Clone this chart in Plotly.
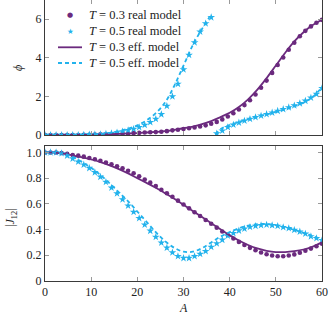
import plotly.graph_objects as go

# ---------------- data ----------------
A_real = [0, 1.2, 2.4, 3.6, 4.8, 6, 7.2, 8.4, 9.6, 10.8, 12, 13.2, 14.4, 15.6, 16.8,
          18, 19.2, 20.4, 21.6, 22.8, 24, 25.2, 26.4, 27.6, 28.8, 30, 31.2, 32.4, 33.6,
          34.8, 36, 37.2, 38.4, 39.6, 40.8, 42, 43.2, 44.4, 45.6, 46.8, 48, 49.2, 50.4,
          51.6, 52.8, 54, 55.2, 56.4, 57.6, 58.8, 60]

phi_T03_real = [0, 0, 0, 0, 0, 0, 0, 0.01, 0.01, 0.02, 0.03, 0.04, 0.05, 0.06, 0.07,
                0.08, 0.1, 0.11, 0.13, 0.14, 0.15, 0.17, 0.2, 0.24, 0.27, 0.31, 0.35, 0.39, 0.44,
                0.5, 0.58, 0.68, 0.81, 0.96, 1.13, 1.32, 1.55, 1.8, 2.1, 2.45, 2.82, 3.22, 3.63,
                4.02, 4.42, 4.78, 5.12, 5.4, 5.63, 5.82, 5.97]

phi_T05_real = [0, 0, 0, 0, 0, 0, 0, 0.01, 0.02, 0.03, 0.04, 0.06, 0.09, 0.13, 0.18,
                0.24, 0.31, 0.4, 0.52, 0.66, 0.83, 1.07, 1.5, 2.0, 2.65, 3.4, 4.15, 4.8, 5.35,
                5.78, 6.1, 0.08, 0.22, 0.4, 0.53, 0.64, 0.74, 0.83, 0.92, 1.0, 1.08, 1.16, 1.25,
                1.34, 1.43, 1.53, 1.64, 1.77, 1.93, 2.12, 2.42]

J_T03_real = [1.0, 1.0, 1.0, 0.995, 0.99, 0.98, 0.975, 0.967, 0.957, 0.947, 0.935, 0.922, 0.908, 0.893, 0.877,
              0.858, 0.838, 0.815, 0.79, 0.765, 0.738, 0.71, 0.682, 0.655, 0.625, 0.595, 0.565, 0.535, 0.505,
              0.475, 0.445, 0.415, 0.385, 0.358, 0.33, 0.304, 0.28, 0.258, 0.24, 0.222, 0.208, 0.198, 0.193,
              0.193, 0.198, 0.207, 0.22, 0.235, 0.252, 0.27, 0.29]

J_T05_real = [1.0, 1.0, 1.0, 0.993, 0.975, 0.952, 0.928, 0.905, 0.878, 0.845, 0.81, 0.77, 0.725, 0.68, 0.634,
              0.585, 0.537, 0.488, 0.438, 0.39, 0.342, 0.298, 0.258, 0.222, 0.193, 0.178, 0.178, 0.192, 0.21,
              0.232, 0.265, 0.292, 0.32, 0.352, 0.372, 0.392, 0.407, 0.42, 0.428, 0.434, 0.437, 0.433, 0.428,
              0.418, 0.41, 0.397, 0.384, 0.368, 0.347, 0.333, 0.317]

A_eff = [0, 2, 4, 6, 8, 10, 12, 14, 16, 18, 20, 22, 24, 26, 28, 30, 32, 34, 36, 38, 40,
         42, 44, 46, 48, 50, 52, 54, 56, 58, 60]

phi_T03_eff = [0, 0, 0, 0, 0, 0.01, 0.03, 0.04, 0.06, 0.08, 0.1, 0.13, 0.16, 0.2, 0.27, 0.35,
               0.44, 0.56, 0.72, 0.93, 1.15, 1.45, 1.85, 2.35, 2.95, 3.6, 4.25, 4.85, 5.33, 5.7, 5.97]

J_T03_eff = [1.0, 0.998, 0.99, 0.978, 0.962, 0.945, 0.925, 0.9, 0.87, 0.837, 0.8, 0.763, 0.725, 0.683,
             0.64, 0.593, 0.545, 0.497, 0.45, 0.402, 0.355, 0.315, 0.28, 0.253, 0.235, 0.225, 0.225,
             0.232, 0.245, 0.268, 0.3]

A_eff05_b1 = [0, 2, 4, 6, 8, 10, 12, 14, 16, 18, 20, 22, 24, 26, 28, 30, 32, 34, 35.6]
phi_T05_eff_b1 = [0, 0, 0, 0, 0, 0.02, 0.05, 0.11, 0.2, 0.33, 0.5, 0.76, 1.13, 1.68, 2.55, 3.6,
                  4.65, 5.5, 6.1]
A_eff05_b2 = [37, 38, 40, 42, 44, 46, 48, 50, 52, 54, 56, 58, 60]
phi_T05_eff_b2 = [0.02, 0.3, 0.52, 0.68, 0.82, 0.95, 1.07, 1.2, 1.33, 1.48, 1.68, 1.98, 2.48]

J_T05_eff = [1.0, 0.998, 0.99, 0.965, 0.925, 0.88, 0.825, 0.76, 0.69, 0.62, 0.54, 0.46, 0.38,
             0.31, 0.258, 0.228, 0.228, 0.255, 0.3, 0.345, 0.38, 0.41, 0.43, 0.442, 0.443, 0.435,
             0.418, 0.398, 0.375, 0.35, 0.322]

x_ticks = [0, 10, 20, 30, 40, 50, 60]
phi_ticks = [0, 2, 4, 6]
J_ticks = [0, 0.2, 0.4, 0.6, 0.8, 1.0]
J_tick_text = ["0", "0.2", "0.4", "0.6", "0.8", "1.0"]

names = ["<i>T</i> = 0.3 real model", "<i>T</i> = 0.5 real model",
         "<i>T</i> = 0.3 eff. model", "<i>T</i> = 0.5 eff. model"]

# ---------------- style ----------------
PURPLE = "#6B2A7E"
CYAN = "#22B2EC"
FONT = "Liberation Serif, Times New Roman, serif"
TXT = "#222"
STAR = 5.8
DOT = 4.6

fig = go.Figure()

# top panel (x, y)
fig.add_trace(go.Scatter(x=A_real, y=phi_T03_real, mode="markers", name=names[0],
                         marker=dict(symbol="circle", size=DOT, color=PURPLE),
                         xaxis="x", yaxis="y"))
fig.add_trace(go.Scatter(x=A_real, y=phi_T05_real, mode="markers", name=names[1],
                         marker=dict(symbol="star", size=STAR, color=CYAN, line=dict(width=0)),
                         xaxis="x", yaxis="y"))
fig.add_trace(go.Scatter(x=A_eff, y=phi_T03_eff, mode="lines", name=names[2],
                         line=dict(color=PURPLE, width=1.8, shape="spline"),
                         xaxis="x", yaxis="y"))
fig.add_trace(go.Scatter(x=A_eff05_b1 + [None] + A_eff05_b2,
                         y=phi_T05_eff_b1 + [None] + phi_T05_eff_b2,
                         mode="lines", name=names[3], connectgaps=False,
                         line=dict(color=CYAN, width=1.8, dash="4px,3px", shape="spline"),
                         xaxis="x", yaxis="y"))

# bottom panel (x2, y2)
fig.add_trace(go.Scatter(x=A_real, y=J_T03_real, mode="markers",
                         marker=dict(symbol="circle", size=DOT, color=PURPLE),
                         xaxis="x2", yaxis="y2"))
fig.add_trace(go.Scatter(x=A_real, y=J_T05_real, mode="markers",
                         marker=dict(symbol="star", size=STAR, color=CYAN, line=dict(width=0)),
                         xaxis="x2", yaxis="y2"))
fig.add_trace(go.Scatter(x=A_eff, y=J_T03_eff, mode="lines",
                         line=dict(color=PURPLE, width=1.8, shape="spline"),
                         xaxis="x2", yaxis="y2"))
fig.add_trace(go.Scatter(x=A_eff, y=J_T05_eff, mode="lines",
                         line=dict(color=CYAN, width=1.8, dash="4px,3px", shape="spline"),
                         xaxis="x2", yaxis="y2"))

axis_common = dict(showline=True, linecolor="#3a3a3a", linewidth=1, mirror="ticks",
                   ticks="inside", ticklen=4, tickcolor="#9a9a9a", tickwidth=1,
                   showgrid=False, zeroline=False,
                   tickfont=dict(family=FONT, size=12, color=TXT))

# ---- layout geometry (pixels) ----
W, HT = 333, 317
ML, MR, MT, MB = 45, 11, 0, 36
PW = W - ML - MR
PH = HT - MT - MB


def px_x(p):
    return (p - ML) / PW


def px_y(p):
    return (HT - MB - p) / PH


annotations = [
    dict(text="<i>ϕ</i>", xref="paper", yref="paper", x=px_x(18), y=px_y(68),
         xanchor="center", yanchor="middle",
         showarrow=False, textangle=-90, font=dict(family=FONT, size=12, color=TXT)),
    dict(text="|<i>J</i><sub>12</sub>|", xref="paper", yref="paper", x=px_x(11), y=px_y(218),
         xanchor="center", yanchor="middle",
         showarrow=False, textangle=-90, font=dict(family=FONT, size=12, color=TXT)),
    dict(text="<i>A</i>", xref="paper", yref="paper", x=px_x(183), y=px_y(308),
         xanchor="center", yanchor="middle",
         showarrow=False, font=dict(family=FONT, size=12, color=TXT)),
]
shapes = []

# ---- legend (built as text + key glyphs) ----
leg_rows = [15, 31.3, 47.3, 63]
leg_keys = [("●", PURPLE, 7), ("★", CYAN, 7.5), ("solid", PURPLE, 0), ("4px,3px", CYAN, 0)]
for row, nm, (key, col, ks) in zip(leg_rows, names, leg_keys):
    annotations.append(dict(text=nm, xref="paper", yref="paper", x=px_x(87), y=px_y(row),
                            xanchor="left", yanchor="middle", showarrow=False,
                            font=dict(family=FONT, size=12.5, color=TXT)))
    if ks:
        annotations.append(dict(text=key, xref="paper", yref="paper", x=px_x(70), y=px_y(row),
                                xanchor="center", yanchor="middle", showarrow=False,
                                font=dict(family="DejaVu Sans", size=ks, color=col)))
    else:
        shapes.append(dict(type="line", xref="paper", yref="paper",
                           x0=px_x(58), x1=px_x(82), y0=px_y(row), y1=px_y(row),
                           line=dict(color=col, width=1.8, dash=key)))

fig.update_layout(
    width=W, height=HT,
    margin=dict(l=ML, r=MR, t=MT, b=MB),
    paper_bgcolor="white", plot_bgcolor="white",
    font=dict(family=FONT, size=12, color=TXT),
    xaxis=dict(axis_common, range=[0, 60], tickvals=x_ticks, showticklabels=False,
               anchor="y", domain=[0, 1]),
    yaxis=dict(axis_common, range=[0, 7], tickvals=phi_ticks,
               domain=[px_y(135), 1.0], anchor="x"),
    xaxis2=dict(axis_common, range=[0, 60], tickvals=x_ticks, anchor="y2", domain=[0, 1]),
    yaxis2=dict(axis_common, range=[0, 1.05], tickvals=J_ticks, ticktext=J_tick_text,
                domain=[0, px_y(146)], anchor="x2"),
    showlegend=False,
    annotations=annotations,
    shapes=shapes,
)

fig.write_html("out.html", config={"displayModeBar": False},
               post_script="document.body.style.margin='0';document.body.style.padding='0';")
